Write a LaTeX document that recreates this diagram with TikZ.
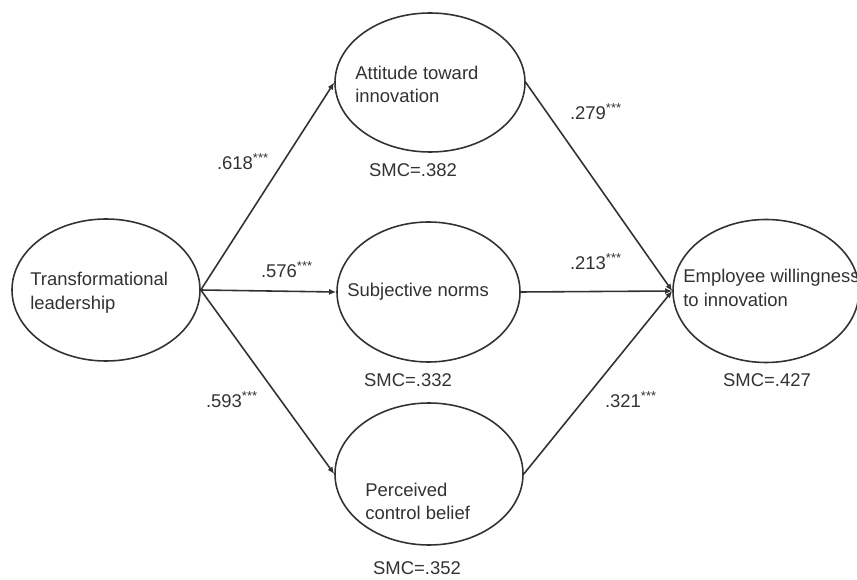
\documentclass[tikz,border=0pt]{standalone}
\usepackage{fontspec}
\setmainfont{Liberation Sans}
\usetikzlibrary{shapes.geometric,arrows.meta}
\definecolor{ink}{RGB}{50,50,50}
\begin{document}
\begin{tikzpicture}[>={Latex[length=4pt,width=3.4pt]},
  latent/.style={draw=ink, ellipse, line width=0.9pt, inner sep=0pt},
  txt/.style={text=ink, align=left, anchor=west, inner sep=0pt, font=\fontsize{10.5}{13.5}\selectfont},
  coef/.style={text=ink, inner sep=0pt, font=\fontsize{10.5}{12}\selectfont},
  link/.style={->, draw=ink, line width=0.9pt}]
\useasboundingbox (0,0) rectangle (17.14,11.6);
\clip (0,0) rectangle (17.14,11.6);
% the five constructs
\node[latent, minimum width=3.76cm, minimum height=2.84cm] (lead) at (2.12,5.8) {};
\node[latent, minimum width=3.8cm, minimum height=2.78cm] (att) at (8.6,9.95) {};
\node[latent, minimum width=3.66cm, minimum height=2.8cm] (subj) at (8.57,5.76) {};
\node[latent, minimum width=3.76cm, minimum height=2.84cm] (pcb) at (8.58,2.12) {};
\node[latent, minimum width=3.72cm, minimum height=2.86cm] (emp) at (15.32,5.78) {};
\node[txt] (leadtxt) at (0.6,5.75) {Transformational\\leadership};
\node[txt] (atttxt) at (7.1,9.91) {Attitude toward\\innovation};
\node[txt] (subjtxt) at (6.94,5.76) {Subjective norms};
\node[txt] (pcbtxt) at (7.3,1.57) {Perceived\\control belief};
\node[txt] (emptxt) at (13.66,5.84) {Employee willingness\\to innovation};
% paths
\draw[link] (lead.east) -- (att.west);
\draw[link] (lead.east) -- (subj.west);
\draw[link] (lead.east) -- (pcb.west);
\draw[link] (att.east) -- (emp.west);
\draw[link] (subj.east) -- (emp.west);
\draw[link] (pcb.east) -- (emp.west);
\node[coef] (c618) at (4.86,8.36) {.618\textsuperscript{***}};
\node[coef] (c576) at (5.74,6.2) {.576\textsuperscript{***}};
\node[coef] (c593) at (4.64,3.6) {.593\textsuperscript{***}};
\node[coef] (c279) at (11.92,9.36) {.279\textsuperscript{***}};
\node[coef] (c213) at (11.92,6.36) {.213\textsuperscript{***}};
\node[coef] (c321) at (12.62,3.6) {.321\textsuperscript{***}};
% squared multiple correlations
\node[coef] (smcatt) at (8.26,8.2) {SMC=.382};
\node[coef] (smcsubj) at (8.16,4.0) {SMC=.332};
\node[coef] (smcpcb) at (8.34,0.24) {SMC=.352};
\node[coef] (smcemp) at (15.34,4.0) {SMC=.427};
\end{tikzpicture}
\end{document}
